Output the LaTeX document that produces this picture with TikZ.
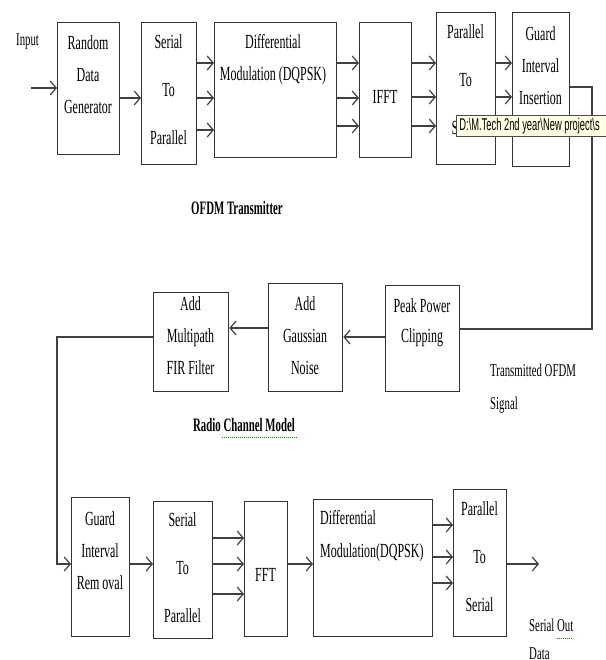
\documentclass[tikz,border=0pt]{standalone}
\usepackage{fontspec}
\newfontfamily\diafont[FakeStretch=0.6]{Liberation Serif}
\newfontfamily\titlefont[FakeStretch=0.57]{Liberation Serif}
\newfontfamily\tipfont[FakeStretch=0.55]{Liberation Sans}
\usetikzlibrary{arrows.meta}
\definecolor{tipbg}{RGB}{255,255,225}
\tikzset{
  blk/.style={draw=black!80, line width=1.3pt, anchor=north west, inner sep=0pt},
  txt/.style={font={\diafont\fontsize{20}{32}\selectfont}, align=center, inner sep=0pt},
  widetxt/.style={font={\diafont\fontsize{20}{48}\selectfont}, align=center, inner sep=0pt},
  lbl/.style={font={\diafont\fontsize{18}{33}\selectfont}, align=left, inner sep=0pt, anchor=west},
  ttl/.style={font={\titlefont\bfseries\fontsize{19}{22}\selectfont}, inner sep=0pt},
  arr/.style={draw=black!75, line width=1.2pt, -{Straight Barb[length=6pt,width=14pt]}},
  wire/.style={draw=black!75, line width=1.2pt},
  squig/.style={draw=green!60!black, densely dotted, line width=1pt},
  tipbox/.style={draw=black!70, fill=tipbg, line width=0.8pt, anchor=north west,
    font={\tipfont\fontsize{17}{20}\selectfont},
    minimum height=21pt, inner xsep=3pt, inner ysep=0pt}
}
\begin{document}
\begin{tikzpicture}[x=1pt,y=-1pt]
    \useasboundingbox (0,0) rectangle (605,660);

    % OFDM transmitter
    \node[blk, minimum width=62, minimum height=132] (rdg) at (57,22) {};
    \node[blk, minimum width=55, minimum height=142] (stp) at (141,22) {};
    \node[blk, minimum width=122, minimum height=135] (dmod) at (214,22) {};
    \node[blk, minimum width=52, minimum height=135] (ifft) at (359,22) {};
    \node[blk, minimum width=59, minimum height=152] (pst) at (436,12) {};
    \node[blk, minimum width=57, minimum height=154] (gii) at (512,12) {};

    \node[txt] (rdgT) at (88,75) {Random\\Data\\Generator};
    \node[widetxt] (stpT) at (168.5,90) {Serial\\To\\Parallel};
    \node[txt] (dmodT) at (273,60) {Differential\\Modulation (DQPSK)};
    \node[txt] (ifftT) at (385,97) {IFFT};
    \node[widetxt] (pstT) at (465.5,80) {Parallel\\To\\Serial};
    \node[txt] (giiT) at (540.5,66) {Guard\\Interval\\Insertion};

    \node[lbl] (inpT) at (16,42) {Input};
    \node[ttl] (txT) at (237,208) {OFDM Transmitter};

    \coordinate (inp) at (31,88);
    \draw[arr] (inp) -- (rdg.west |- inp);
    \draw[arr] (rdg.east |- 0,98) -- (stp.west |- 0,98);
    \foreach \y in {63,98,130}
        \draw[arr] (stp.east |- 0,\y) -- (dmod.west |- 0,\y);
    \foreach \y in {63,98,126}
        \draw[arr] (dmod.east |- 0,\y) -- (ifft.west |- 0,\y);
    \foreach \y in {63,97,126}
        \draw[arr] (ifft.east |- 0,\y) -- (pst.west |- 0,\y);
    \foreach \y in {63,97}
        \draw[arr] (pst.east |- 0,\y) -- (gii.west |- 0,\y);

    % radio channel model
    \node[blk, minimum width=74, minimum height=106] (ppc) at (385,285) {};
    \node[blk, minimum width=74, minimum height=108] (agn) at (268,283) {};
    \node[blk, minimum width=75, minimum height=99] (mpf) at (153,292) {};

    \node[txt, font={\diafont\fontsize{20}{30}\selectfont}] (ppcT) at (422,323) {Peak Power\\Clipping};
    \node[txt] (agnT) at (305,336) {Add\\Gaussian\\Noise};
    \node[txt] (mpfT) at (190.5,336) {Add\\Multipath\\FIR Filter};

    \node[lbl] (sigT) at (490,389) {Transmitted OFDM\\Signal};
    \node[ttl] (rcmT) at (244,425) {Radio Channel Model};
    \draw[squig] (222,437) -- (297,437);

    \coordinate (turn) at (592,87);
    \draw[wire] (gii.east |- turn) -- (turn) |- (ppc.east |- 0,329);
    \draw[arr] (ppc.west |- 0,337) -- (agn.east |- 0,337);
    \draw[arr] (agn.west |- 0,328) -- (mpf.east |- 0,328);
    \coordinate (drop) at (57,337);
    \draw[arr] (mpf.west |- drop) -- (drop) |- (71,564);

    % OFDM receiver
    \node[blk, minimum width=58, minimum height=139] (gir) at (71,497) {};
    \node[blk, minimum width=59, minimum height=137] (stp2) at (153,501) {};
    \node[blk, minimum width=43, minimum height=135] (fft) at (244,501) {};
    \node[blk, minimum width=119, minimum height=137] (dmod2) at (313,499) {};
    \node[blk, minimum width=53, minimum height=147] (ps) at (453,489) {};

    \node[txt] (girT) at (100,551) {Guard\\Interval\\Rem oval};
    \node[widetxt] (stp2T) at (182.5,568) {Serial\\To\\Parallel};
    \node[txt] (fftT) at (265.5,575) {FFT};
    \node[txt, align=left, anchor=west, font={\diafont\fontsize{20}{33}\selectfont}] (dmod2T) at (320,536) {Differential\\Modulation(DQPSK)};
    \node[widetxt] (psT) at (479.5,557) {Parallel\\To\\Serial};

    \node[lbl, font={\diafont\fontsize{18}{28}\selectfont}] (outT) at (529,639) {Serial Out\\Data};
    \draw[squig] (557,638) -- (573,638);

    \draw[arr] (gir.east |- 0,564) -- (stp2.west |- 0,564);
    \foreach \y in {538,564,594}
        \draw[arr] (stp2.east |- 0,\y) -- (fft.west |- 0,\y);
    \draw[arr] (fft.east |- 0,564) -- (dmod2.west |- 0,564);
    \foreach \y in {525,557,583}
        \draw[arr] (dmod2.east |- 0,\y) -- (ps.west |- 0,\y);
    \coordinate (outp) at (539,564);
    \draw[arr] (ps.east |- outp) -- (outp);

    % tooltip over the picture
    \node[tipbox] (tipT) at (456,115) {\makebox[155pt][l]{D:\textbackslash M.Tech 2nd year\textbackslash New project\textbackslash s}};
\end{tikzpicture}
\end{document}
